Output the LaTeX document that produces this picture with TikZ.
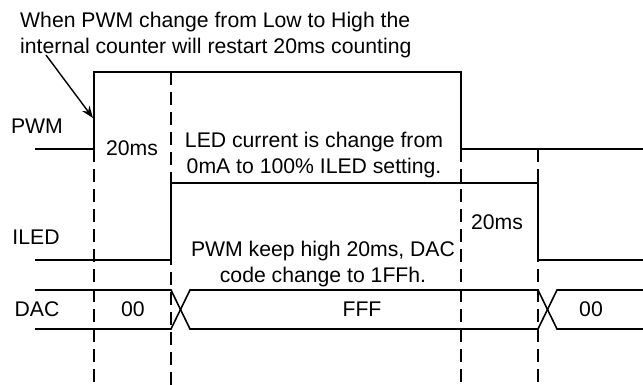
\documentclass[tikz,border=0pt]{standalone}
\usepackage{fontspec}
\setmainfont{Liberation Sans}
\usetikzlibrary{arrows.meta}

\begin{document}
\begin{tikzpicture}[x=1pt,y=-1pt,
    wave/.style={line width=1.6pt},
    guide/.style={line width=1.6pt, dash pattern=on 13pt off 7pt},
    lbl/.style={font=\fontsize{21.2}{25.5}\selectfont, inner sep=0pt},
    note/.style={lbl, align=center}]
  \useasboundingbox (0,0) rectangle (643,385);
  % time markers
  \draw[guide] (94,149) -- (94,385);
  \draw[guide] (171,72) -- (171,385);
  \draw[guide] (461,149) -- (461,385);
  \draw[guide] (538,149) -- (538,385);
  % PWM
  \draw[wave] (35,149) -- (94,149) -- (94,72) -- (461,72) -- (461,149) -- (643,149);
  % ILED
  \draw[wave] (35,260) -- (171,260) -- (171,183) -- (538,183) -- (538,260) -- (643,260);
  % DAC bus
  \draw[wave] (35,290) -- (171,290) -- (190,329) -- (538,329) -- (557,290) -- (643,290);
  \draw[wave] (35,329) -- (171,329) -- (190,290) -- (538,290) -- (557,329) -- (643,329);
  % signal names
  \node[lbl] (pwmname) at (37,126) {PWM};
  \node[lbl] (iledname) at (36,237) {ILED};
  \node[lbl] (dacname) at (37,309) {DAC};
  % values
  \node[lbl] (dacold) at (133,309) {00};
  \node[lbl] (dacfff) at (362,309) {FFF};
  \node[lbl] (dacnew) at (591,309) {00};
  \node[lbl] (riseTime) at (132,148) {20ms};
  \node[lbl] (fallTime) at (497,222) {20ms};
  % notes
  \node[note] (ledNote) at (314,155) {LED current is change from\\0mA to 100\% ILED setting.};
  \node[note] (dacNote) at (323,264) {PWM keep high 20ms, DAC\\code change to 1FFh.};
  \node[lbl, align=left, anchor=west] (topNote) at (20,35) {When PWM change from Low to High the\\internal counter will restart 20ms counting};
  \coordinate (noteTail) at (46,55);
  \coordinate (pwmEdge) at (93,118);
  \draw[line width=1.4pt, -{Stealth[length=12pt,width=9pt]}] (noteTail) -- (pwmEdge);
\end{tikzpicture}
\end{document}
